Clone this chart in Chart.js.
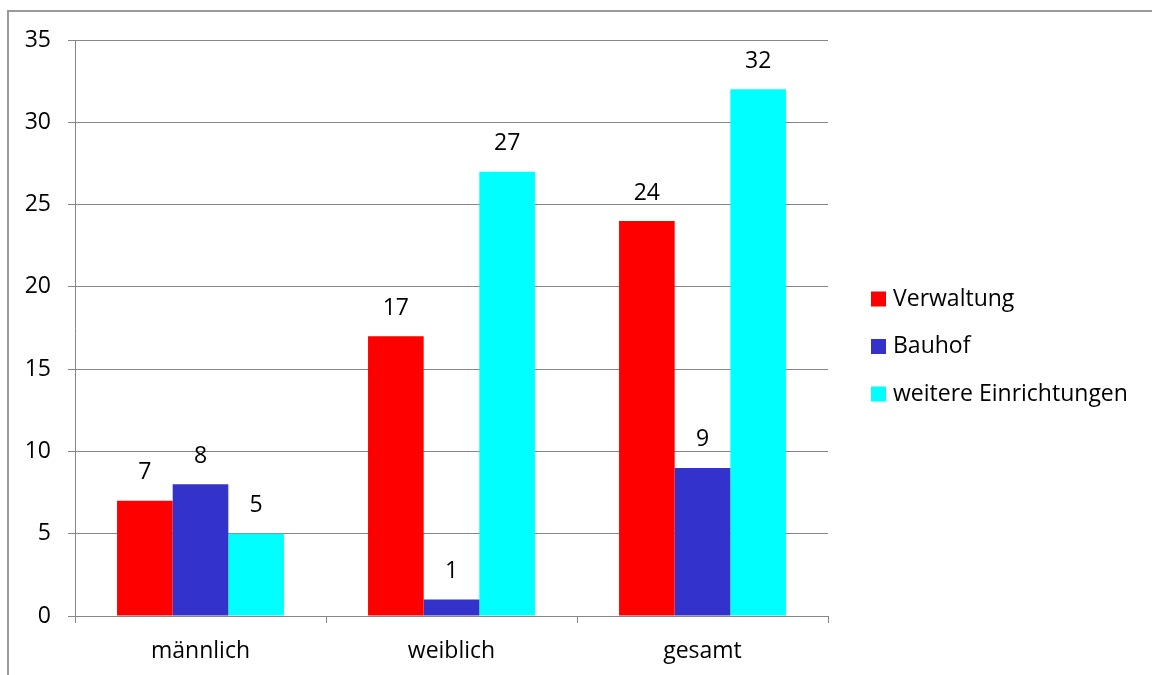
<!DOCTYPE html>
<html>
<head>
<meta charset="utf-8">
<script src="https://cdn.jsdelivr.net/npm/chart.js@4"></script>
<style>
  html, body { margin: 0; padding: 0; background: #fff; }
  #wrap { position: relative; width: 1152px; height: 675px; overflow: hidden; }
  #frame { position: absolute; left: 7px; top: 10px; width: 1200px; height: 700px;
           border-top: 2px solid #9a9a9a; border-left: 2px solid #9a9a9a; box-sizing: border-box; }
  canvas { position: absolute; left: 0; top: 0; }
</style>
</head>
<body>
<div id="wrap">
  <div id="frame"></div>
  <canvas id="c" width="1152" height="675"></canvas>
</div>
<script>
const categories = ['männlich', 'weiblich', 'gesamt'];
const seriesNames = ['Verwaltung', 'Bauhof', 'weitere Einrichtungen'];
const verwaltung = [7, 17, 24];
const bauhof = [8, 1, 9];
const weitere = [5, 27, 32];
const yTicks = [0, 5, 10, 15, 20, 25, 30, 35];
const colors = ['#ff0000', '#3333cc', '#00ffff'];

const FONT = '"Open Sans", "Noto Sans", sans-serif';
const FS = 23;

const valueLabels = {
  id: 'valueLabels',
  afterDatasetsDraw(chart) {
    const ctx = chart.ctx;
    ctx.save();
    ctx.font = FS + 'px ' + FONT;
    ctx.fillStyle = '#000';
    ctx.textAlign = 'center';
    ctx.textBaseline = 'middle';
    chart.data.datasets.forEach((ds, i) => {
      const meta = chart.getDatasetMeta(i);
      meta.data.forEach((el, j) => {
        ctx.fillText(String(ds.data[j]), el.x, el.y - 28);
      });
    });
    ctx.restore();
  }
};

const sideLegend = {
  id: 'sideLegend',
  afterDraw(chart) {
    const ctx = chart.ctx;
    ctx.save();
    ctx.font = FS + 'px ' + FONT;
    ctx.textBaseline = 'middle';
    ctx.textAlign = 'left';
    chart.data.datasets.forEach((ds, i) => {
      const cy = 299 + i * 47.5;
      ctx.fillStyle = ds.backgroundColor;
      ctx.fillRect(871, cy - 7.5, 15, 15);
      ctx.fillStyle = '#000';
      ctx.fillText(ds.label, 893, cy);
    });
    ctx.restore();
  }
};

new Chart(document.getElementById('c'), {
  type: 'bar',
  data: {
    labels: categories,
    datasets: [
      { label: seriesNames[0], data: verwaltung, backgroundColor: colors[0] },
      { label: seriesNames[1], data: bauhof, backgroundColor: colors[1] },
      { label: seriesNames[2], data: weitere, backgroundColor: colors[2] }
    ]
  },
  options: {
    responsive: false,
    animation: false,
    devicePixelRatio: 1,
    layout: { padding: { left: 0, right: 324, top: 40, bottom: 0 } },
    datasets: { bar: { categoryPercentage: 0.665, barPercentage: 1.0 } },
    plugins: { legend: { display: false }, tooltip: { enabled: false } },
    scales: {
      x: {
        afterFit(s) { s.height = 59; },
        grid: { drawOnChartArea: false, drawTicks: true, tickLength: 7, color: '#868686', offset: true },
        border: { color: '#868686', width: 1 },
        ticks: { color: '#000', font: { family: FONT, size: FS }, padding: 15 }
      },
      y: {
        min: 0, max: 35,
        afterFit(s) { s.width = 75; },
        afterBuildTicks(s) { s.ticks = yTicks.map(v => ({ value: v })); },
        grid: { color: '#868686', tickLength: 7, drawTicks: true },
        border: { color: '#868686', width: 1 },
        ticks: { color: '#000', font: { family: FONT, size: FS }, padding: 17 }
      }
    }
  },
  plugins: [valueLabels, sideLegend]
});
</script>
</body>
</html>
